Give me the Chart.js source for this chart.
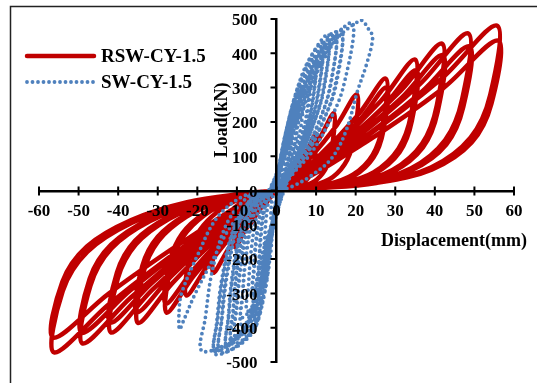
<!DOCTYPE html>
<html>
<head>
<meta charset="utf-8">
<script src="https://cdn.jsdelivr.net/npm/chart.js@4.4.1/dist/chart.umd.min.js"></script>
<style>
  html, body { margin: 0; padding: 0; background: #fff; }
  #wrap { width: 537px; height: 383px; }
</style>
</head>
<body>
<div id="wrap"><canvas id="hysteresisChart" width="537" height="383"></canvas></div>
<script>
// Series names and axis text
const seriesNames = ['RSW-CY-1.5', 'SW-CY-1.5'];
const xTitle = 'Displacement(mm)';
const yTitle = 'Load(kN)';
const xTicks = [-60, -50, -40, -30, -20, -10, 0, 10, 20, 30, 40, 50, 60];
const yTicks = [-500, -400, -300, -200, -100, 0, 100, 200, 300, 400, 500];

// RSW-CY-1.5 : displacement (mm), one line per cycle
const rswDisp = [
  0.1, 1.2, 2.3, 3, 2.9, 2.6, 2.1, 1.4, 0.6, -0.1, -1.2, -2.3, -3, -2.9, -2.6, -2, -1.2, -0.5,
  0.1, 2.4, 4.5, 6, 5.8, 5.3, 4.2, 2.7, 1.2, -0.2, -2.6, -4.9, -6.5, -6.2, -5.5, -4.2, -2.6, -1,
  0.2, 4, 7.5, 10, 9.7, 8.8, 7, 4.5, 2, -0.3, -4.2, -7.9, -10.5, -10.1, -8.9, -6.8, -4.2, -1.6,
  0.3, 5.8, 10.9, 14.5, 14.1, 12.8, 10.2, 6.5, 2.9, -0.5, -6.4, -12, -16, -15.4, -13.6, -10.4, -6.4, -2.4,
  0.4, 8.1, 15.2, 20.3, 19.7, 17.9, 14.2, 9.1, 4.1, -0.7, -9.1, -17.1, -22.8, -21.9, -19.4, -14.8, -9.1, -3.4,
  0.6, 11, 20.7, 27.6, 26.8, 24.3, 19.3, 12.4, 5.5, -0.8, -11.1, -20.9, -27.8, -26.7, -23.6, -18.1, -11.1, -4.2,
  0.6, 11.1, 20.9, 27.8, 27, 24.5, 19.5, 12.5, 5.6, -0.8, -11.2, -21, -28, -26.9, -23.8, -18.2, -11.2, -4.2,
  0.7, 14, 26.3, 35, 34, 30.8, 24.5, 15.8, 7, -1.1, -14, -26.3, -35, -33.6, -29.8, -22.8, -14, -5.3,
  0.7, 14.1, 26.5, 35.3, 34.2, 31.1, 24.7, 15.9, 7.1, -1.1, -14.1, -26.5, -35.3, -33.9, -30, -22.9, -14.1, -5.3,
  0.8, 16.7, 31.4, 41.8, 40.5, 36.8, 29.3, 18.8, 8.4, -1.3, -16.7, -31.4, -41.8, -40.1, -35.5, -27.2, -16.7, -6.3,
  0.8, 16.8, 31.5, 42, 40.7, 37, 29.4, 18.9, 8.4, -1.3, -16.8, -31.5, -42, -40.3, -35.7, -27.3, -16.8, -6.3,
  1, 19.4, 36.3, 48.4, 46.9, 42.6, 33.9, 21.8, 9.7, -1.5, -19.6, -36.8, -49, -47, -41.7, -31.9, -19.6, -7.4,
  1, 19.5, 36.5, 48.7, 47.2, 42.9, 34.1, 21.9, 9.7, -1.5, -19.7, -36.9, -49.2, -47.2, -41.8, -32, -19.7, -7.4,
  1.1, 22.3, 41.8, 55.7, 54, 49, 39, 25.1, 11.1, -1.7, -22.5, -42.2, -56.2, -54, -47.8, -36.5, -22.5, -8.4,
  1.1, 22.4, 42, 56, 54.3, 49.3, 39.2, 25.2, 11.2, -1.7, -22.6, -42.3, -56.4, -54.1, -47.9, -36.7, -22.6, -8.5, 0
];
// RSW-CY-1.5 : load (kN)
const rswLoad = [
  0, 16, 34, 50, 29, 16, 7, 3, 1, 0, -15, -32, -45, -28, -17, -9, -4, -1,
  0, 30, 65, 95, 55, 30, 13, 5, 1, 0, -31, -67, -95, -59, -36, -19, -8, -2,
  0, 53, 112, 165, 96, 53, 23, 8, 2, 0, -54, -116, -165, -102, -63, -33, -13, -3,
  0, 72, 153, 225, 131, 72, 32, 11, 3, 0, -79, -168, -240, -149, -91, -48, -19, -5,
  0, 90, 190, 280, 162, 90, 39, 14, 4, 0, -101, -214, -306, -190, -116, -61, -24, -6,
  0, 104, 222, 326, 189, 104, 46, 16, 5, 0, -117, -249, -356, -221, -135, -71, -28, -7,
  0, 96, 204, 300, 174, 96, 42, 15, 5, 0, -109, -231, -330, -205, -125, -66, -26, -7,
  0, 122, 260, 382, 222, 122, 53, 19, 6, 0, -127, -270, -386, -239, -147, -77, -31, -8,
  0, 112, 238, 350, 203, 112, 49, 18, 5, 0, -117, -249, -355, -220, -135, -71, -28, -7,
  0, 137, 291, 428, 248, 137, 60, 21, 6, 0, -137, -290, -414, -257, -157, -83, -33, -8,
  0, 126, 269, 395, 229, 126, 55, 20, 6, 0, -127, -270, -385, -239, -146, -77, -31, -8,
  0, 147, 311, 458, 266, 147, 64, 23, 7, 0, -147, -312, -446, -277, -169, -89, -36, -9,
  0, 134, 286, 420, 244, 134, 59, 21, 6, 0, -137, -291, -415, -257, -158, -83, -33, -8,
  0, 154, 327, 481, 279, 154, 67, 24, 7, 0, -156, -330, -472, -293, -179, -94, -38, -9,
  0, 140, 297, 437, 253, 140, 61, 22, 7, 0, -142, -300, -429, -266, -163, -86, -34, -9, 0
];

// SW-CY-1.5 : displacement (mm), one line per cycle
const swDisp = [
  -0.1, 0.3, 0.7, 1.2, 1.1, 0.8, 0.5, 0.2, 0.2, -0.3, -0.6, -1.1, -1.5, -1.4, -1.3, -1, -0.5,
  -0.3, 0.6, 1.5, 2.5, 2.2, 1.7, 1.1, 0.5, 0.3, -0.6, -1.2, -2.1, -3, -2.9, -2.6, -2, -1.1,
  -0.4, 1, 2.4, 4, 3.5, 2.7, 1.8, 0.7, 0.5, -0.9, -1.8, -3.2, -4.5, -4.3, -3.8, -2.9, -1.6,
  -0.4, 1.2, 2.6, 4, 3.6, 2.9, 2, 0.9, 0.5, -1.1, -2, -3.4, -4.5, -4.3, -4, -3.2, -1.8,
  -0.6, 1.4, 3.3, 5.5, 4.8, 3.7, 2.5, 1, 0.6, -1.2, -2.4, -4.2, -6, -5.7, -5.1, -3.9, -2.1,
  -0.6, 1.7, 3.6, 5.5, 5, 4, 2.8, 1.2, 0.6, -1.5, -2.7, -4.5, -6, -5.8, -5.3, -4.2, -2.4,
  -0.7, 1.8, 4.2, 7, 6.2, 4.8, 3.2, 1.3, 0.7, -1.5, -3, -5.3, -7.5, -7.1, -6.4, -4.9, -2.6,
  -0.9, 2.1, 5.1, 8.5, 7.5, 5.8, 3.8, 1.5, 0.9, -1.8, -3.6, -6.3, -9, -8.6, -7.7, -5.9, -3.2,
  -0.9, 2.6, 5.5, 8.5, 7.7, 6.1, 4.3, 1.9, 0.9, -2.3, -4.1, -6.8, -9, -8.6, -7.9, -6.3, -3.6,
  -1, 2.5, 6, 10, 8.8, 6.8, 4.5, 1.8, 1, -2.1, -4.2, -7.4, -10.5, -10, -8.9, -6.8, -3.7,
  -1, 3, 6.5, 10, 9, 7.2, 5, 2.2, 1, -2.6, -4.7, -7.9, -10.5, -10.1, -9.2, -7.4, -4.2,
  -1.2, 2.9, 7, 11.6, 10.2, 7.9, 5.2, 2.1, 1.2, -2.3, -4.6, -8.1, -11.5, -10.9, -9.8, -7.5, -4,
  -1.2, 3.5, 7.5, 11.6, 10.4, 8.4, 5.8, 2.6, 1.2, -2.9, -5.2, -8.6, -11.5, -11, -10.1, -8.1, -4.6,
  -1.3, 3.3, 7.9, 13.2, 11.6, 9, 5.9, 2.4, 1.3, -2.5, -5.1, -8.9, -12.7, -12.1, -10.8, -8.3, -4.4,
  -1.3, 4, 8.6, 13.2, 11.9, 9.5, 6.6, 2.9, 1.3, -3.2, -5.7, -9.5, -12.7, -12.2, -11.2, -8.9, -5.1,
  -1.5, 3.8, 9, 15, 13.2, 10.2, 6.8, 2.7, 1.5, -2.9, -5.8, -10.2, -14.5, -13.8, -12.3, -9.4, -5.1,
  -1.5, 4.5, 9.8, 15, 13.5, 10.8, 7.5, 3.3, 1.5, -3.6, -6.5, -10.9, -14.5, -13.9, -12.8, -10.2, -5.8,
  -1.7, 4.1, 9.9, 16.5, 14.5, 11.2, 7.4, 3, 1.7, -3.1, -6.3, -11, -15.7, -14.9, -13.3, -10.2, -5.5,
  -1.7, 5, 10.7, 16.5, 14.9, 11.9, 8.3, 3.6, 1.7, -3.9, -7.1, -11.8, -15.7, -15.1, -13.8, -11, -6.3,
  -1.9, 4.8, 11.5, 19.2, 16.9, 13.1, 8.6, 3.5, 1.9, -3.8, -7.6, -13.3, -19, -18, -16.2, -12.4, -6.7,
  -2, 5.3, 12.7, 21.2, 23.3, 24.3, 22.8, 20.5, 17.6, 14, 9, 4, 1, -4, -11, -16, -20.5, -23.5, -24.5, -24.6, -24, -20, -15.2, -9, -3
];
// SW-CY-1.5 : load (kN)
const swLoad = [
  0, 27, 49, 60, 37, 24, 13, 5, 0, -36, -68, -78, -80, -64, -40, -16, -2,
  0, 59, 107, 130, 81, 52, 29, 10, 0, -72, -136, -155, -160, -128, -80, -32, -5,
  0, 90, 164, 200, 124, 80, 44, 16, 0, -108, -204, -233, -240, -192, -120, -48, -7,
  0, 76, 148, 190, 125, 86, 49, 19, 0, -95, -180, -214, -225, -185, -124, -56, -11,
  0, 115, 209, 255, 158, 102, 56, 20, 0, -135, -255, -291, -300, -240, -150, -60, -9,
  0, 96, 187, 240, 158, 108, 62, 24, 0, -120, -228, -271, -285, -234, -157, -71, -14,
  0, 137, 250, 305, 189, 122, 67, 24, 0, -158, -298, -340, -350, -280, -175, -70, -11,
  0, 158, 287, 350, 217, 140, 77, 28, 0, -176, -332, -378, -390, -312, -195, -78, -12,
  0, 132, 257, 330, 218, 149, 86, 33, 0, -155, -296, -352, -370, -303, -204, -93, -19,
  0, 176, 320, 390, 242, 156, 86, 31, 0, -191, -361, -412, -425, -340, -213, -85, -13,
  0, 150, 293, 375, 248, 169, 98, 38, 0, -172, -328, -390, -410, -336, -226, -103, -21,
  0, 194, 353, 430, 267, 172, 95, 34, 0, -200, -378, -432, -445, -356, -223, -89, -13,
  0, 164, 320, 410, 271, 185, 107, 41, 0, -181, -344, -409, -430, -353, -237, -108, -22,
  0, 205, 373, 455, 282, 182, 100, 36, 0, -207, -392, -447, -461, -369, -231, -92, -14,
  0, 176, 343, 440, 290, 198, 114, 44, 0, -190, -362, -429, -452, -371, -249, -113, -23,
  0, 208, 379, 462, 286, 185, 102, 37, 0, -212, -400, -456, -470, -376, -235, -94, -14,
  0, 180, 351, 450, 297, 203, 117, 45, 0, -194, -370, -439, -462, -379, -254, -116, -23,
  0, 211, 384, 468, 290, 187, 103, 37, 0, -214, -404, -461, -475, -380, -238, -95, -14,
  0, 182, 355, 455, 300, 205, 118, 46, 0, -197, -374, -445, -468, -384, -257, -117, -23,
  0, 220, 400, 488, 303, 195, 107, 39, 0, -210, -396, -452, -466, -373, -233, -93, -14,
  0, 223, 407, 496, 470, 446, 370, 291, 175, 95, 45, 12, 0, -25, -96, -200, -300, -380, -405, -350, -300, -190, -82, -20, 0
];

function toPoints(xs, ys) {
  return xs.map((x, i) => ({ x: x, y: ys[i] }));
}

const serif = 'Liberation Serif, Times New Roman, serif';

// frame, tick marks, axis titles and legend
const decorations = {
  id: 'decorations',
  beforeDraw(chart) {
    const ctx = chart.ctx;
    ctx.save();
    ctx.strokeStyle = '#222';
    ctx.lineWidth = 1.5;
    ctx.beginPath();
    ctx.moveTo(10.5, chart.height + 5);
    ctx.lineTo(10.5, 6.5);
    ctx.lineTo(chart.width + 5, 6.5);
    ctx.stroke();
    ctx.restore();
  },
  afterDatasetsDraw(chart) {
    const ctx = chart.ctx;
    const xs = chart.scales.x;
    const ys = chart.scales.y;
    const x0 = xs.getPixelForValue(0);
    const y0 = ys.getPixelForValue(0);
    ctx.save();
    ctx.strokeStyle = '#000';
    ctx.lineWidth = 2;
    ctx.beginPath();
    xs.ticks.forEach(t => {
      const px = xs.getPixelForValue(t.value);
      ctx.moveTo(px, y0 - 4);
      ctx.lineTo(px, y0 + 5);
    });
    ys.ticks.forEach(t => {
      const py = ys.getPixelForValue(t.value);
      ctx.moveTo(x0 - 6, py);
      ctx.lineTo(x0, py);
    });
    ctx.stroke();
    ctx.restore();
  },
  afterDraw(chart) {
    const ctx = chart.ctx;
    ctx.save();
    ctx.fillStyle = '#000';
    ctx.font = 'bold 18px ' + serif;
    ctx.textBaseline = 'middle';
    ctx.textAlign = 'left';
    ctx.fillText(xTitle, 381, 241);
    ctx.save();
    ctx.translate(222, 120);
    ctx.rotate(-Math.PI / 2);
    ctx.textAlign = 'center';
    ctx.fillText(yTitle, 0, 0);
    ctx.restore();

    // legend
    const rows = [56, 82];
    ctx.font = 'bold 19px ' + serif;
    chart.data.datasets.forEach((ds, i) => {
      const y = rows[i];
      ctx.save();
      ctx.strokeStyle = ds.borderColor;
      ctx.lineWidth = ds.borderWidth;
      ctx.lineCap = 'round';
      ctx.setLineDash(ds.borderDash || []);
      ctx.beginPath();
      ctx.moveTo(27, y);
      ctx.lineTo(94, y);
      ctx.stroke();
      ctx.restore();
      ctx.fillText(ds.label, 101, y + 1);
    });
    ctx.restore();
  }
};

new Chart(document.getElementById('hysteresisChart'), {
  type: 'scatter',
  data: {
    datasets: [
      {
        label: seriesNames[0],
        data: toPoints(rswDisp, rswLoad),
        showLine: true,
        borderColor: '#C00000',
        borderWidth: 4.5,
        pointRadius: 0,
        tension: 0.35,
        borderJoinStyle: 'round',
        borderCapStyle: 'round',
        order: 2
      },
      {
        label: seriesNames[1],
        data: toPoints(swDisp, swLoad),
        showLine: true,
        borderColor: '#4F81BD',
        borderWidth: 3.8,
        borderDash: [0, 5.5],
        borderCapStyle: 'round',
        pointRadius: 0,
        tension: 0.35,
        order: 1
      }
    ]
  },
  options: {
    responsive: false,
    animation: false,
    layout: { padding: { left: 39, right: 23, top: 19, bottom: 21 } },
    plugins: {
      legend: { display: false },
      tooltip: { enabled: false }
    },
    scales: {
      x: {
        type: 'linear',
        position: 'center',
        min: -60,
        max: 60,
        afterBuildTicks: s => { s.ticks = xTicks.map(v => ({ value: v })); },
        afterFit: s => { s.height = 0; },
        grid: { drawOnChartArea: false, drawTicks: true, tickLength: 4, color: 'rgba(0,0,0,0)' },
        border: { color: '#000', width: 2.5, z: 1 },
        ticks: {
          z: 1,
          color: '#000',
          font: { family: serif, size: 17, weight: 'bold' },
          padding: 7,
          autoSkip: false,
          maxRotation: 0
        }
      },
      y: {
        type: 'linear',
        position: 'center',
        min: -500,
        max: 500,
        afterBuildTicks: s => { s.ticks = yTicks.map(v => ({ value: v })); },
        afterFit: s => { s.width = 0; },
        grid: { drawOnChartArea: false, drawTicks: true, tickLength: 16, color: 'rgba(0,0,0,0)' },
        border: { color: '#000', width: 2.5, z: 1 },
        ticks: {
          z: 1,
          color: '#000',
          font: { family: serif, size: 17, weight: 'bold' },
          labelOffset: 2
        }
      }
    }
  },
  plugins: [decorations]
});
</script>
</body>
</html>
